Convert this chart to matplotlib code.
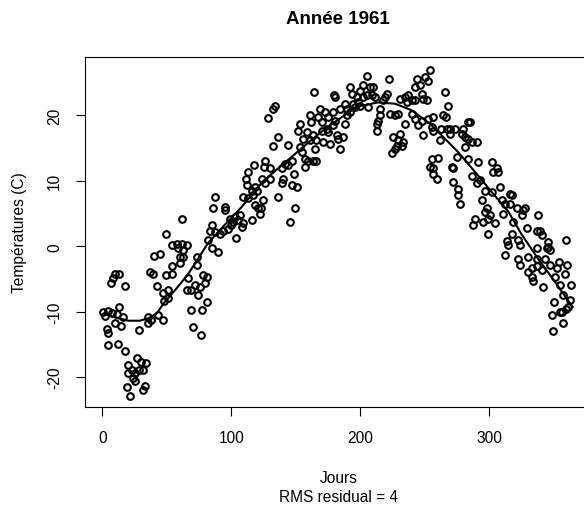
import matplotlib
matplotlib.use('Agg')
import matplotlib.pyplot as plt

plt.rcParams['font.family'] = ['Liberation Sans', 'DejaVu Sans']

# points : (jour, température)
hiver = [(0.5, -10.0), (2, -10.7), (3.2, -12.6), (4.4, -9.9), (4.4, -13.3), (4.4, -15.1),
         (6.5, -5.6), (7, -10.2), (8.3, -4.8), (9.6, -4.3), (9.6, -11.8), (11, -10.4),
         (12, -14.9), (12.7, -4.2), (12.7, -9.3), (14.3, -12.2), (16, -10.9), (17.4, -6.1),
         (17.4, -16.0), (18.7, -21.6), (20, -18.2), (20, -19.4), (21.3, -22.9), (22.6, -18.9),
         (24, -20.2), (25, -19.4), (25, -20.7), (26.5, -17.1), (28, -12.8), (28, -18.9),
         (30, -17.7), (31.6, -18.9), (31.6, -22.0), (33, -21.4), (34, -17.9), (35.5, -10.8),
         (35.5, -11.8), (36.8, -3.9), (38, -11.3), (39.4, -4.2), (40, -1.5), (42, -6.1),
         (42.8, -10.5), (45, -1.2), (46.7, -7.1), (47, -11.3), (47.7, -8.4), (49, -4.4),
         (49.4, 1.8), (51, -6.7), (51, -8.0), (53.6, 0.15), (54, -3.0), (54, -4.3), (57.5, 0.3)]

printemps = [(58.8, -0.35), (60, -1.6), (60, -2.6), (61.4, 0.4), (62, 4.2), (62.7, -0.6),
             (62.7, -1.6), (65.3, 0.15), (65.3, -6.7), (66.5, -4.9), (69, -6.7), (69, -9.8),
             (70, -12.3), (71.7, -6.0), (73, -1.6), (73, -2.9), (74, -7.5), (75.6, -6.2),
             (76.4, -13.6), (77, -9.8), (78, -4.4), (79.5, -5.7), (80.8, -4.7), (80.8, -8.5),
             (82, 0.9), (83.4, 2.4), (84.7, 3.2), (84.7, -0.35), (86, 5.8), (87, 7.5),
             (87.3, 2.2), (90, -0.85), (91, 1.9), (93.7, 2.4), (95, 6.0), (95, 5.5),
             (97.6, 2.7), (99, 4.2), (100, 3.2), (101.5, 3.7), (103, 4.5), (104, 1.2),
             (105, 4.0), (106.7, 4.7), (108, 3.0), (109, 3.5), (109, 7.5), (111, 10.3),
             (112, 9.3), (113, 11.4), (113, 7.3), (115.8, 8.5), (116, 4.0), (117, 7.8),
             (117.8, 12.4), (118, 6.3), (119.6, 8.5), (121, 5.8), (122, 5.0), (123, 5.8),
             (124, 10.3), (125.5, 12.1), (126, 13.1),
             (118.3, 9.1), (124.8, 7.0), (126, 9.6), (128.7, 19.6), (130, 11.9), (130, 10.3),
             (132.5, 21.0), (132.5, 15.4), (133.8, 21.5), (136.4, 16.7), (136.4, 7.5), (139, 11.9),
             (139, 9.6), (140, 10.3), (141.6, 12.6), (144, 15.5), (144, 12.4), (145.5, 3.7),
             (146.8, 13.1), (146.8, 9.3), (149, 11.1), (149.4, 5.8), (150.7, 9.1), (152, 17.7),
             (153, 18.7), (153, 15.2), (154.6, 14.4), (155.8, 16.4), (157, 13.4), (157, 12.1),
             (158.5, 17.5), (159.7, 13.1), (161, 20.0), (161, 16.2), (162, 19.0), (163.5, 17.0),
             (163.6, 13.1), (164, 23.6), (165, 14.9), (166, 16.2), (166, 13.1), (167.5, 19.8),
             (168.8, 21.0), (170, 19.0), (170, 17.7), (171.4, 15.9), (172.7, 20.5), (174, 18.0),
             (175, 19.8), (175, 17.5), (176.5, 15.7), (179, 20.5), (179, 18.5)]

ete = [(180, 23.1), (180.4, 22.8), (180.4, 19.2), (181.7, 17.0), (183, 16.4), (184.3, 21.0),
       (184.3, 14.9), (187, 16.7), (188, 18.7), (189.5, 20.0), (188, 21.8), (189.4, 21.0),
       (192, 20.5), (192, 24.3), (193.4, 23.3), (194.6, 21.8), (196, 21.3), (197.3, 22.8),
       (198.5, 22.0), (199.8, 21.5), (200, 23.8), (202, 24.6), (202.4, 22.8), (205, 26.1),
       (205, 23.1), (206.3, 21.3), (207.6, 24.3), (209, 23.1), (210, 24.3), (211.5, 22.8),
       (212.8, 18.7), (212.8, 17.7), (214, 19.2), (215.4, 21.0), (215.4, 20.0), (218, 22.3),
       (219, 22.8), (220.5, 23.3), (222, 25.6), (223, 20.3), (224.5, 14.2), (225.7, 16.7),
       (227, 20.0), (227, 14.9), (228.3, 15.4), (229.6, 20.3), (229.6, 16.2), (231, 22.5),
       (231, 17.2), (232.2, 15.4), (233.5, 15.9), (235, 22.8), (235, 18.7), (236, 22.0),
       (237.4, 23.1), (240, 22.3), (240, 20.3), (242.5, 22.3), (242.5, 24.3), (242.5, 19.5),
       (244, 25.6), (245, 18.5), (246.4, 24.6), (247.7, 23.3), (247.7, 19.2), (249, 22.5),
       (249, 17.0), (250, 25.9), (251.6, 22.3), (252.9, 19.5), (253, 25.3), (254, 26.9),
       (254, 12.1), (255.5, 13.4), (255.5, 18.2), (256.8, 19.8), (256.8, 17.7), (256.8, 11.9),
       (256.8, 11.1)]

automne = [(259.4, 10.3), (260.6, 13.5), (262, 16.2), (262.6, 18.0), (264.5, 20.0), (265.8, 23.6),
           (266.4, 19.8), (267, 18.0), (268, 21.5), (269.8, 18.0), (269.8, 17.2), (271, 12.1),
           (272.3, 12.0), (272.3, 9.8), (273.6, 18.0), (275, 13.6), (275.7, 7.8), (276, 8.8),
           (277.5, 6.4), (278.8, 17.2), (280, 18.0), (281, 15.2), (281.4, 16.7), (284, 19.0),
           (284, 13.4), (284, 16.4), (285, 19.0), (286.6, 15.9), (286.6, 10.8), (287.8, 3.2),
           (289, 4.2), (290.5, 15.9), (290.5, 9.6), (291.7, 12.9), (293, 10.1), (294.3, 7.0),
           (295.6, 3.7), (297, 5.3), (297, 8.5), (298.2, 5.8), (299.5, 4.2), (299.5, 1.9),
           (300.8, 4.7), (302, 12.9), (302, 8.3), (303.3, 11.4), (304.7, 3.5), (306, 11.9),
           (307.2, 11.4), (308.5, 9.1), (309.9, 7.0), (311, 5.0), (312.4, 6.5), (313.7, 0.8),
           (312.4, -1.4), (316.3, 8.0), (318, 7.9),
           (316, 6.5), (321.5, 5.8), (326.6, 5.5), (328, 5.8), (325.4, 4.7), (338.3, 4.7),
           (318.9, 3.7), (329.3, 2.8), (337, 2.4), (339.6, 2.4), (341, 1.7), (317.6, 1.9),
           (360, 0.9), (346, 0.7), (346, -0.1), (345, -0.35), (347.4, -0.6), (337, -0.25),
           (315, 0.15), (322.7, 0.9), (324, 0.15), (322.7, -1.9), (330.5, -1.6), (324, -2.9),
           (337, -1.9), (333, -3.4), (337, -3.1), (341, -3.7), (343.5, -1.9), (347.4, -2.9),
           (354, -2.4), (352.6, -3.4), (351.3, -4.7), (360.3, -2.9), (359, -4.2), (364, -6.0),
           (330.5, -3.9), (333, -4.7), (334.4, -5.3), (342, -6.2), (355, -6.0), (357.7, -7.5),
           (362.9, -8.2), (361.6, -9.3), (359.5, -9.6), (350.7, -8.5), (356.4, -10.0), (355, -10.1),
           (348.7, -10.5), (357.7, -11.8), (350, -13.0)]

# courbe lissée
courbe_jours = [1, 10, 20, 29, 36, 42, 48, 56, 66, 82, 95, 108, 118, 125, 144, 157, 173,
                192, 201, 214, 227, 240, 255, 263, 276, 289, 302, 315, 325, 338, 351, 362, 365]
courbe_temp = [-10.3, -10.9, -11.4, -11.4, -11.0, -10.3, -8.6, -6.8, -4.4, 0.5, 3.3, 6.0, 8.4,
               10.0, 13.2, 15.4, 18.0, 20.6, 21.5, 22.0, 21.8, 20.8, 18.6, 17.0, 14.4, 11.4,
               8.3, 5.3, 1.9, -1.9, -5.4, -8.5, -9.3]

x_ticks = [0, 100, 200, 300]
y_ticks = [-20, -10, 0, 10, 20]

points = hiver + printemps + ete + automne
jours = [p[0] for p in points]
temperatures = [p[1] for p in points]

fig = plt.figure(figsize=(5.84, 5.06), dpi=100)
# le cadre dépasse à droite de l'image, comme sur l'original
ax = fig.add_axes([0.1455, 0.1937, 0.8675, 0.6917])

ax.plot(jours, temperatures, 'o', mfc='none', mec='black', ms=4.8, mew=1.5)
ax.plot(courbe_jours, courbe_temp, color='black', lw=1.5)

ax.set_xlim(-13.6, 379.6)
ax.set_ylim(-24.6, 28.95)
ax.set_xticks(x_ticks)
ax.set_xticklabels([str(v) for v in x_ticks])
ax.set_yticks(y_ticks)
ax.set_yticklabels([str(v) for v in y_ticks], rotation=90, va='center')
ax.tick_params(direction='out', length=6.5, width=0.8, pad=10, labelsize=11.2, colors='black')
for s in ax.spines.values():
    s.set_linewidth(0.8)

fig.text(338.3 / 584, 1 - 20 / 506, 'Année 1961', ha='center', va='center',
         fontsize=13.5, fontweight='bold')
fig.text(20 / 584, 1 - 233 / 506, 'Températures (C)', rotation=90, ha='center', va='center',
         fontsize=11.2)
fig.text(338.3 / 584, 1 - 479 / 506, 'Jours', ha='center', va='center', fontsize=11.2)
fig.text(338.3 / 584, 1 - 498 / 506, 'RMS residual = 4', ha='center', va='center', fontsize=11.2)

fig.savefig('out.png', dpi=100)
